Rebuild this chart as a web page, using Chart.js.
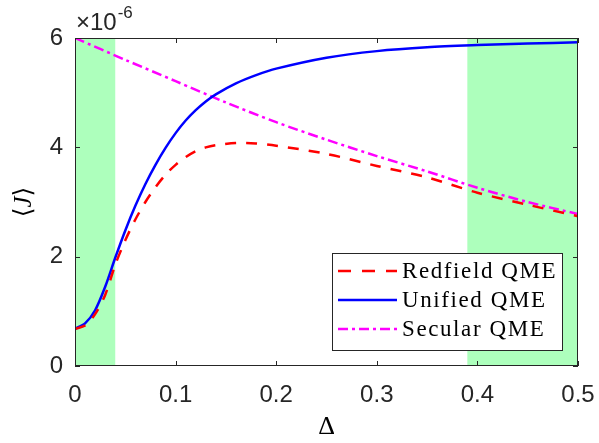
<!DOCTYPE html>
<html>
<head>
<meta charset="utf-8">
<script src="https://cdn.jsdelivr.net/npm/chart.js@4.4.1/dist/chart.umd.min.js"></script>
<style>
  html, body { margin: 0; padding: 0; background: #fff; }
  #wrap { width: 599px; height: 443px; }
</style>
</head>
<body>
<div id="wrap"><canvas id="c" width="599" height="443"></canvas></div>
<script>
// values in units of 1e-6
const delta = [0, 0.01, 0.02, 0.03, 0.04, 0.05, 0.06, 0.07, 0.08, 0.09, 0.1, 0.11, 0.12, 0.13, 0.14,
               0.16, 0.18, 0.2, 0.25, 0.3, 0.35, 0.4, 0.45, 0.5];
const redfield = [0.68, 0.74, 0.95, 1.3, 1.85, 2.3, 2.68, 3.0, 3.27, 3.5, 3.68, 3.82, 3.93, 4.0, 4.04,
                  4.08, 4.07, 4.03, 3.88, 3.66, 3.45, 3.17, 2.95, 2.74];
const unified = [0.68, 0.78, 1.02, 1.45, 1.98, 2.48, 2.93, 3.33, 3.68, 3.99, 4.26, 4.49, 4.68, 4.84, 4.97,
                 5.17, 5.32, 5.44, 5.64, 5.76, 5.83, 5.87, 5.9, 5.92];
const secularX = [0, 0.05, 0.1, 0.15, 0.2, 0.25, 0.3, 0.35, 0.4, 0.45, 0.5];
const secular = [6.0, 5.6, 5.21, 4.82, 4.46, 4.14, 3.84, 3.56, 3.26, 3.0, 2.78];

const xTicks = ['0', '0.1', '0.2', '0.3', '0.4', '0.5'];
const yTicks = ['0', '2', '4', '6'];

// shaded regions (green)
const bandStart = [0, 0.39];
const bandEnd = [0.04, 0.5];

const axisColor = '#262626';
const sans = '"Liberation Sans", Arial, sans-serif';
const serif = '"Liberation Serif", "DejaVu Serif", serif';

function pts(xs, ys) {
    return xs.map((x, i) => ({ x: x, y: ys[i] }));
}

// green bands behind the curves
const bandsPlugin = {
    id: 'bands',
    beforeDatasetsDraw(chart) {
        const { ctx, chartArea, scales: { x } } = chart;
        ctx.save();
        ctx.fillStyle = '#adffbc';
        bandStart.forEach((b, i) => {
            const x0 = x.getPixelForValue(b);
            const x1 = x.getPixelForValue(bandEnd[i]);
            ctx.fillRect(x0, chartArea.top, x1 - x0, chartArea.bottom - chartArea.top);
        });
        ctx.restore();
    }
};

// matlab style box with inward ticks, exponent and y label
const boxPlugin = {
    id: 'box',
    afterDatasetsDraw(chart) {
        const { ctx, chartArea: a, scales: { x, y } } = chart;
        ctx.save();
        ctx.strokeStyle = axisColor;
        ctx.lineWidth = 1;
        ctx.strokeRect(a.left + 0.5, a.top + 0.5, a.right - a.left - 1, a.bottom - a.top - 1);
        ctx.beginPath();
        x.ticks.forEach(t => {
            const px = Math.round(x.getPixelForValue(t.value)) + 0.5;
            ctx.moveTo(px, a.bottom); ctx.lineTo(px, a.bottom - 5);
            ctx.moveTo(px, a.top); ctx.lineTo(px, a.top + 5);
        });
        y.ticks.forEach(t => {
            const py = Math.round(y.getPixelForValue(t.value)) + 0.5;
            ctx.moveTo(a.left, py); ctx.lineTo(a.left + 5, py);
            ctx.moveTo(a.right, py); ctx.lineTo(a.right - 5, py);
        });
        ctx.stroke();

        // x10^-6
        ctx.fillStyle = axisColor;
        ctx.textBaseline = 'alphabetic';
        ctx.textAlign = 'left';
        ctx.font = '24px ' + sans;
        ctx.fillText('\u00d710', a.left + 1, 30);
        const w = ctx.measureText('\u00d710').width;
        ctx.font = '17px ' + sans;
        ctx.fillText('-6', a.left + 2 + w, 18);

        // y label <J>
        ctx.translate(24, 202);
        ctx.rotate(-Math.PI / 2);
        ctx.textBaseline = 'middle';
        ctx.fillStyle = '#000';
        const parts = [['\u27e8', '25px ' + serif], ['J', 'italic 25px ' + serif], ['\u27e9', '25px ' + serif]];
        let total = 0;
        parts.forEach(p => { ctx.font = p[1]; total += ctx.measureText(p[0]).width; });
        let cx = -total / 2;
        parts.forEach(p => {
            ctx.font = p[1];
            ctx.fillText(p[0], cx, 0);
            cx += ctx.measureText(p[0]).width;
        });
        ctx.restore();
    }
};

// legend box in the lower right
const legendPlugin = {
    id: 'boxLegend',
    afterDraw(chart) {
        const { ctx } = chart;
        const bx = 332, by = 253, bw = 230, bh = 97;
        ctx.save();
        ctx.fillStyle = '#fff';
        ctx.fillRect(bx, by, bw, bh);
        ctx.strokeStyle = axisColor;
        ctx.lineWidth = 1;
        ctx.strokeRect(bx + 0.5, by + 0.5, bw, bh);
        chart.data.datasets.forEach((ds, i) => {
            const ly = by + 18 + i * 29;
            ctx.strokeStyle = ds.borderColor;
            ctx.lineWidth = 2.5;
            ctx.setLineDash(ds.legendDash || []);
            ctx.beginPath();
            ctx.moveTo(bx + 6, ly);
            ctx.lineTo(bx + 65, ly);
            ctx.stroke();
            ctx.setLineDash([]);
            ctx.fillStyle = '#000';
            ctx.font = '23px ' + serif;
            ctx.letterSpacing = '1.6px';
            ctx.textBaseline = 'middle';
            ctx.fillText(ds.label, bx + 70, ly + 1);
        });
        ctx.restore();
    }
};

new Chart(document.getElementById('c'), {
    type: 'line',
    data: {
        datasets: [
            {
                label: 'Redfield QME',
                data: pts(delta, redfield),
                borderColor: '#ff0000',
                borderWidth: 2.5,
                borderDash: [11, 10],
                legendDash: [13, 11],
                pointRadius: 0,
                tension: 0.3
            },
            {
                label: 'Unified QME',
                data: pts(delta, unified),
                borderColor: '#0000ff',
                borderWidth: 2.5,
                pointRadius: 0,
                tension: 0.3
            },
            {
                label: 'Secular QME',
                data: pts(secularX, secular),
                borderColor: '#ff00ff',
                borderWidth: 2.5,
                borderDash: [10, 4, 3, 4],
                legendDash: [10, 4, 3, 4],
                pointRadius: 0,
                tension: 0.3
            }
        ]
    },
    options: {
        responsive: false,
        animation: false,
        devicePixelRatio: 1,
        layout: { padding: { top: 38, right: 21, left: 0, bottom: 0 } },
        plugins: { legend: { display: false }, tooltip: { enabled: false } },
        scales: {
            x: {
                type: 'linear',
                min: 0, max: 0.5,
                border: { display: false },
                grid: { display: false, drawTicks: false },
                ticks: {
                    stepSize: 0.1,
                    padding: 15,
                    color: axisColor,
                    font: { family: sans, size: 24 },
                    maxRotation: 0,
                    callback: (v, i) => xTicks[i]
                },
                title: {
                    display: true,
                    text: '\u0394',
                    color: '#000',
                    font: { family: serif, size: 26 },
                    padding: { top: 6, bottom: 0 }
                },
                afterFit: s => { s.height = 77; s.paddingLeft = 0; s.paddingRight = 0; }
            },
            y: {
                min: 0, max: 6,
                border: { display: false },
                grid: { display: false, drawTicks: false },
                ticks: {
                    stepSize: 2,
                    padding: 12,
                    color: axisColor,
                    font: { family: sans, size: 24 },
                    callback: (v, i) => yTicks[i]
                },
                afterFit: s => { s.width = 75; s.paddingTop = 0; s.paddingBottom = 0; }
            }
        }
    },
    plugins: [bandsPlugin, boxPlugin, legendPlugin]
});
</script>
</body>
</html>
